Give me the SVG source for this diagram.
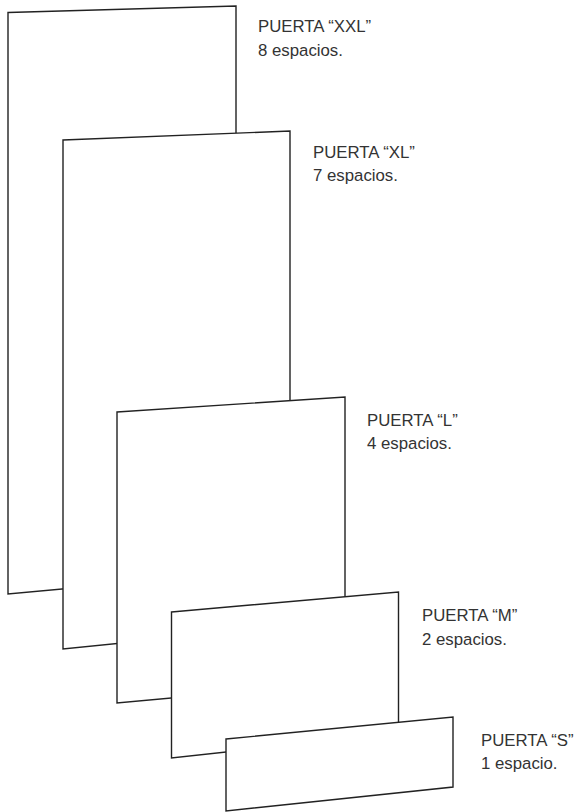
<svg xmlns="http://www.w3.org/2000/svg" width="576" height="812" viewBox="0 0 576 812">
<style>
.p{fill:#fff;stroke:#222;stroke-width:1.4;stroke-linejoin:miter}
.t{font-family:"Liberation Sans",Arial,sans-serif;font-size:16.8px;fill:#333}
</style>
<rect width="576" height="812" fill="#fff"/>
<g id="xxl"><polygon class="p" points="8,12.5 236,6 236,573 8,594"/><text class="t" x="258" y="32">PUERTA “XXL”</text><text class="t" x="258" y="56">8 espacios.</text></g>
<g id="xl"><polygon class="p" points="63,140 290,131 290,626 63,649"/><text class="t" x="313" y="158">PUERTA “XL”</text><text class="t" x="313" y="181">7 espacios.</text></g>
<g id="l"><polygon class="p" points="117,412 345,397 345,682 117,703"/><text class="t" x="367" y="426">PUERTA “L”</text><text class="t" x="367" y="449">4 espacios.</text></g>
<g id="m"><polygon class="p" points="171.5,612 398.5,592 398.5,733 171.5,758"/><text class="t" x="422" y="621">PUERTA “M”</text><text class="t" x="422" y="645">2 espacios.</text></g>
<g id="s"><polygon class="p" points="226,739 453,717 453,787 226,811"/><text class="t" x="481" y="746">PUERTA “S”</text><text class="t" x="481" y="769">1 espacio.</text></g>
<g id="connectors"/>
</svg>
